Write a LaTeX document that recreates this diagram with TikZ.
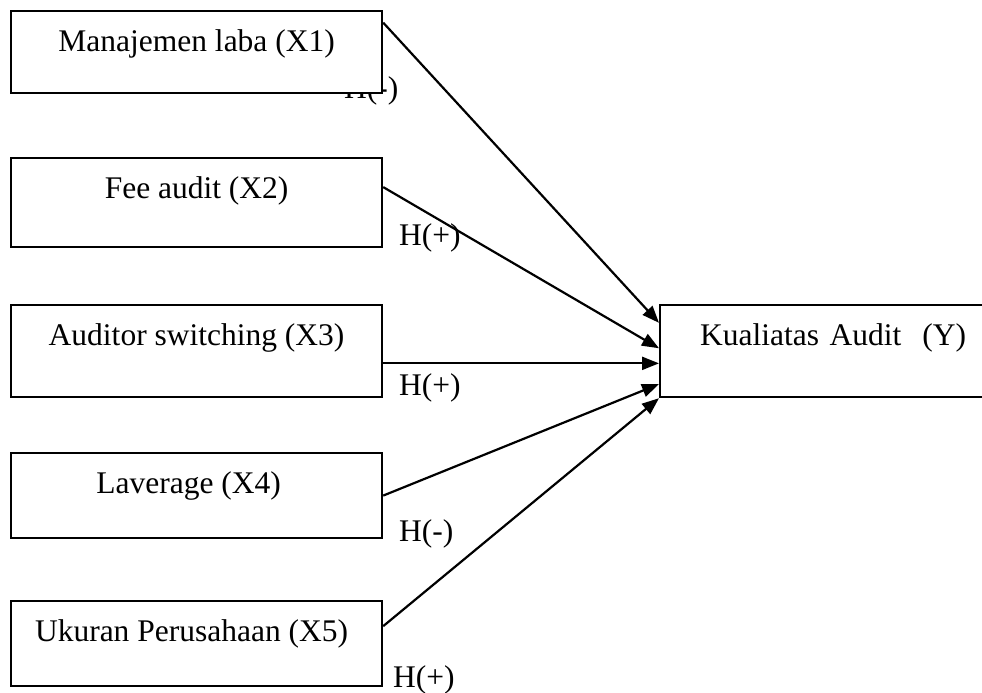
\documentclass[tikz,border=0pt]{standalone}
\usepackage{fontspec}
\setmainfont{Liberation Serif}
\usetikzlibrary{calc, arrows.meta}

\begin{document}
\begin{tikzpicture}
		[x=1pt, y=-1pt, line width=2.2pt,
		font=\fontsize{31.5}{36}\selectfont,
		varbox/.style={draw, fill=white, anchor=north west, inner sep=0pt, text height=40pt, minimum width=371pt},
		hyp/.style={anchor=base west, inner sep=0pt},
		link/.style={-{Triangle[length=17pt, width=13pt]}}]
		\useasboundingbox (0,0) rectangle (982,693);
		\node[hyp] (H1) at (343,98) {H(-)};
		\node[varbox, text depth=42pt] (X1) at (10,10) {Manajemen laba (X1)};
		\node[varbox, text depth=49pt] (X2) at (10,157) {Fee audit (X2)};
		\node[varbox, text depth=52pt] (X3) at (10,304) {Auditor switching (X3)};
		\node[varbox, text depth=45pt] (X4) at (10,452) {Laverage (X4)\hspace*{16pt}};
		\node[varbox, text depth=45pt] (X5) at (10,600) {Ukuran Perusahaan (X5)\hspace*{10pt}};
		\node[varbox, text depth=52pt, text width=340pt, align=left, inner xsep=40pt] (Y) at (659,304) {Kualiatas Audit~ (Y)};
		
		\node[hyp] (H2) at (398,245) {H(+)};
		\node[hyp] (H3) at (398,395) {H(+)};
		\node[hyp] (H4) at (398,541) {H(-)};
		\node[hyp] (H5) at (392,687) {H(+)};
		
		\draw[link] ($(X1.north east)!0.15!(X1.south east)$) -- ($(Y.north west)!0.2!(Y.south west)$);
		\draw[link] ($(X2.north east)!0.33!(X2.south east)$) -- ($(Y.north west)!0.47!(Y.south west)$);
		\draw[link] ($(X3.north east)!0.63!(X3.south east)$) -- ($(Y.north west)!0.63!(Y.south west)$);
		\draw[link] (X4.east) -- ($(Y.north west)!0.85!(Y.south west)$);
		\draw[link] ($(X5.north east)!0.3!(X5.south east)$) -- (Y.south west);
	\end{tikzpicture}
\end{document}
